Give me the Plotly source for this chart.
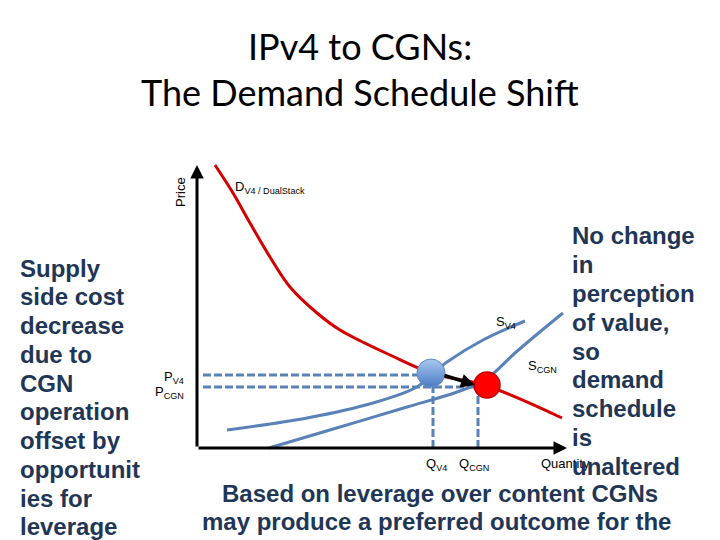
import plotly.graph_objects as go

# ---- data (chart units: quantity to the right, price upward) ----
demand_q = [18, 36, 53, 73, 93, 120, 143, 193, 234, 290, 365]
demand_p = [283, 255, 225, 191, 161, 135, 118, 93, 75, 62, 30]

supply_v4_q = [30, 110, 176, 220, 234, 250, 286, 328]
supply_v4_p = [18, 30, 45, 61, 73, 86, 108, 127]

supply_cgn_q = [72, 143, 210, 260, 288, 318, 344, 366]
supply_cgn_p = [0, 21, 41, 56, 68, 95, 117, 135]

eq_v4 = (234, 75)
eq_cgn = (290, 63)

p_v4, p_cgn = 73, 61
q_v4, q_cgn = 236, 281

title_lines = ["IPv4 to CGNs:", "The Demand Schedule Shift"]
left_lines = ["Supply", "side cost", "decrease", "due to", "CGN", "operation",
              "offset by", "opportunit", "ies for", "leverage"]
right_lines = ["No change", "in", "perception", "of value,", "so", "demand",
               "schedule", "is", "unaltered"]
bottom_lines = ["Based on leverage over content CGNs",
                "may produce a preferred outcome for the"]

# ---- style ----
BLUE = "#5a82b8"
RED = "#d40000"
NAVY = "#1f3656"
W, H = 720, 540
PAD = 8            # page body margin added by the browser
OX, OY = 197, 448  # axes origin in page pixels


def X(px):
    return px - OX


def Y(py):
    return OY - py


fig = go.Figure()

fig.add_trace(go.Scatter(x=demand_q, y=demand_p, mode="lines",
                         line=dict(color=RED, width=3, shape="spline"), hoverinfo="skip"))
fig.add_trace(go.Scatter(x=supply_v4_q, y=supply_v4_p, mode="lines",
                         line=dict(color=BLUE, width=3, shape="spline"), hoverinfo="skip"))
fig.add_trace(go.Scatter(x=supply_cgn_q, y=supply_cgn_p, mode="lines",
                         line=dict(color=BLUE, width=3, shape="spline"), hoverinfo="skip"))

dash = "8px,3px"
fig.add_trace(go.Scatter(x=[6, eq_v4[0] - 12], y=[p_v4, p_v4], mode="lines",
                         line=dict(color=BLUE, width=3, dash=dash)))
fig.add_trace(go.Scatter(x=[6, q_cgn], y=[p_cgn, p_cgn], mode="lines",
                         line=dict(color=BLUE, width=3, dash=dash)))
fig.add_trace(go.Scatter(x=[q_v4, q_v4], y=[0, p_cgn], mode="lines",
                         line=dict(color=BLUE, width=3, dash=dash)))
fig.add_trace(go.Scatter(x=[q_cgn, q_cgn], y=[0, p_cgn - 3], mode="lines",
                         line=dict(color=BLUE, width=3, dash=dash)))

fig.add_trace(go.Scatter(x=[eq_v4[0]], y=[eq_v4[1]], mode="markers",
                         marker=dict(size=28, color="#a9c8f2",
                                     gradient=dict(type="vertical", color="#4a7cc2"),
                                     line=dict(color="#5f8ac4", width=1))))
fig.add_trace(go.Scatter(x=[eq_cgn[0]], y=[eq_cgn[1]], mode="markers",
                         marker=dict(size=26, color="#ff0000",
                                     line=dict(color="#c00000", width=1.5))))

ann = []
# axes with arrows
ann.append(dict(x=0, y=Y(165), ax=0, ay=0, axref="x", ayref="y", xref="x", yref="y",
                text="", showarrow=True, arrowhead=2, arrowwidth=3, arrowsize=0.9,
                arrowcolor="black"))
ann.append(dict(x=X(567), y=0, ax=0, ay=0, axref="x", ayref="y", xref="x", yref="y",
                text="", showarrow=True, arrowhead=2, arrowwidth=3, arrowsize=0.9,
                arrowcolor="black"))
# shift arrow
ann.append(dict(x=278, y=63, ax=246, ay=73, axref="x", ayref="y", xref="x", yref="y",
                text="", showarrow=True, arrowhead=2, arrowwidth=3.5, arrowsize=0.8,
                arrowcolor="black"))

small = dict(family="Liberation Sans, Arial, sans-serif", size=13, color="black")
labels = [
    ("Price", X(180), Y(192), "center", -90),
    ("D<sub>V4 / DualStack</sub>", X(233), Y(187), "left", 0),
    ("S<sub>V4</sub>", X(494), Y(322), "left", 0),
    ("S<sub>CGN</sub>", X(526), Y(366), "left", 0),
    ("P<sub>V4</sub>", X(186), Y(377), "right", 0),
    ("P<sub>CGN</sub>", X(186), Y(392), "right", 0),
    ("Q<sub>V4</sub>", X(424), Y(464), "left", 0),
    ("Q<sub>CGN</sub>", X(457), Y(464), "left", 0),
    ("Quantity", X(539), Y(463), "left", 0),
]
for t, x, y, xa, rot in labels:
    ann.append(dict(text=t, x=x, y=y, xref="x", yref="y", xanchor=xa, yanchor="middle",
                    showarrow=False, textangle=rot, font=small))

title_font = dict(family="Lato, sans-serif", size=36, color="black")
for t, py in zip(title_lines, [46, 92]):
    ann.append(dict(text=t, x=X(360), y=Y(py), xref="x", yref="y", xanchor="center",
                    yanchor="middle", showarrow=False, font=title_font))

bold = dict(family="Liberation Sans, Arial, sans-serif", size=24, color=NAVY)
left_y = [268, 296, 325, 354, 383, 411, 440, 469, 498, 526]
for t, py in zip(left_lines, left_y):
    ann.append(dict(text="<b>%s</b>" % t, x=X(18), y=Y(py), xref="x", yref="y",
                    xanchor="left", yanchor="middle", showarrow=False, font=bold))
right_y = [235, 264, 293, 322, 351, 379, 408, 437, 466]
for t, py in zip(right_lines, right_y):
    ann.append(dict(text="<b>%s</b>" % t, x=X(570), y=Y(py), xref="x", yref="y",
                    xanchor="left", yanchor="middle", showarrow=False, font=bold))
for t, px, py in zip(bottom_lines, [440, 436], [493, 521]):
    ann.append(dict(text="<b>%s</b>" % t, x=X(px), y=Y(py), xref="x", yref="y",
                    xanchor="center", yanchor="middle", showarrow=False, font=bold))

fig.update_layout(
    width=W - PAD, height=H - PAD, margin=dict(l=0, r=0, t=0, b=0),
    paper_bgcolor="white", plot_bgcolor="white", showlegend=False,
    xaxis=dict(range=[X(PAD), X(W)], visible=False, fixedrange=True),
    yaxis=dict(range=[Y(H), Y(PAD)], visible=False, fixedrange=True),
    annotations=ann,
)

fig.write_html("out.html")
